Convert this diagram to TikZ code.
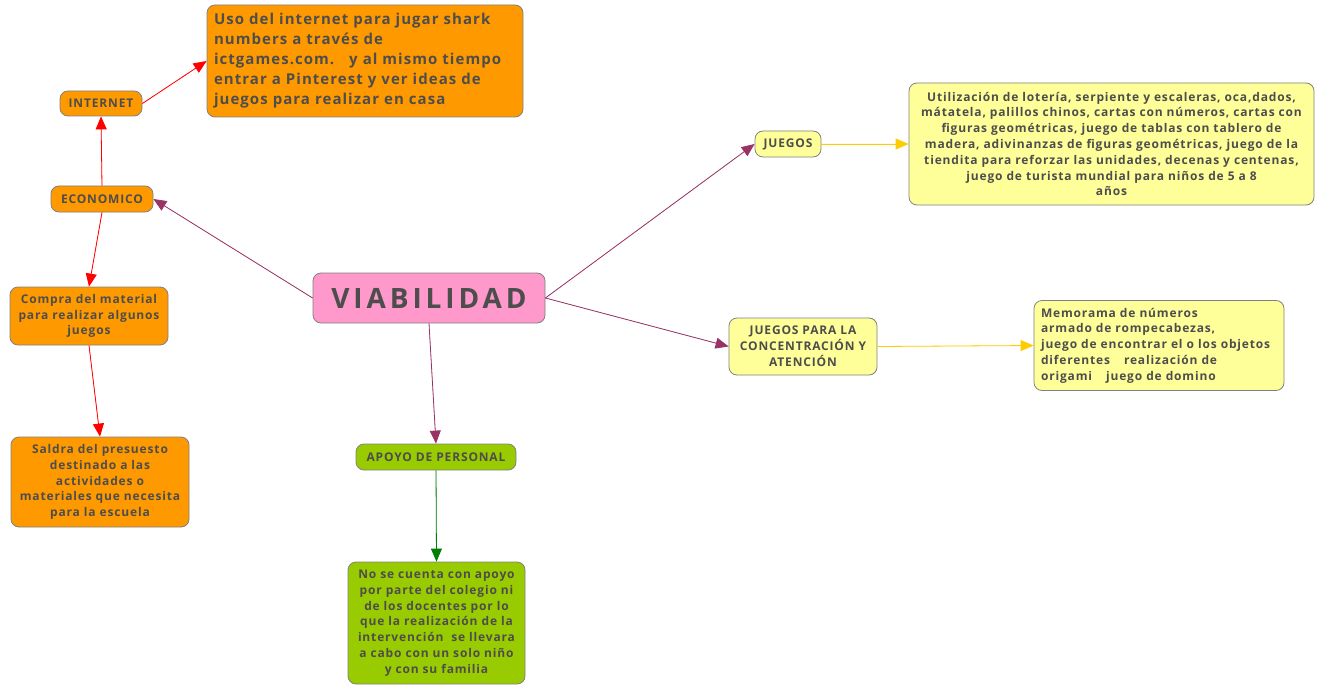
\documentclass[tikz,border=0pt]{standalone}
\usepackage{fontspec}
\setmainfont{Open Sans}[LetterSpace=7]
\usetikzlibrary{arrows.meta}
\definecolor{orangebox}{HTML}{FF9900}
\definecolor{yellowbox}{HTML}{FFFF99}
\definecolor{pinkbox}{HTML}{FF99CC}
\definecolor{greenbox}{HTML}{99CC00}
\definecolor{boxline}{HTML}{808080}
\definecolor{txt}{HTML}{4D4D4D}
\definecolor{plum}{HTML}{993366}
\definecolor{redline}{HTML}{FF0000}
\definecolor{greenline}{HTML}{008000}
\definecolor{goldline}{HTML}{FFCC00}
\begin{document}
\begin{tikzpicture}[x=1pt,y=-1pt,
  box/.style={draw=boxline,line width=0.8pt,rounded corners=8pt,text=txt,font=\bfseries\fontsize{12}{15.8}\selectfont,inner sep=0pt,align=center},
  obox/.style={box,fill=orangebox},
  ybox/.style={box,fill=yellowbox},
  gbox/.style={box,fill=greenbox},
  pbox/.style={box,fill=pinkbox},
  tip/.style={-{Triangle[length=13pt,width=11pt]},line width=0.8pt},
  plumarrow/.style={tip,draw=plum,fill=plum},
  redarrow/.style={tip,draw=redline,fill=redline},
  greenarrow/.style={tip,draw=greenline,fill=greenline},
  goldarrow/.style={tip,draw=goldline,fill=goldline}]
\useasboundingbox (0,0) rectangle (1319,687);

\node[pbox,minimum width=232pt,minimum height=50pt,font=\bfseries\fontsize{28}{30}\selectfont\addfontfeatures{LetterSpace=14}] (viab) at (429,298) {VIABILIDAD};

\node[obox,minimum width=102pt,minimum height=26pt] (eco) at (102,199) {ECONOMICO};
\node[obox,minimum width=82pt,minimum height=25pt] (inet) at (101,103.5) {INTERNET};
\node[obox,minimum width=316pt,minimum height=112pt,align=left,text width=302pt,font=\bfseries\fontsize{15}{20}\selectfont] (uso) at (365,61)
 {Uso del internet para jugar shark\\numbers a través de\\ictgames.com.\ \ \ y al mismo tiempo\\entrar a Pinterest y ver ideas de\\juegos para realizar en casa};
\node[obox,minimum width=158pt,minimum height=58pt] (compra) at (89,316) {Compra del material\\para realizar algunos\\juegos};
\node[obox,minimum width=178pt,minimum height=90pt] (saldra) at (100,482) {Saldra del presuesto\\destinado a las\\actividades o\\materiales que necesita\\para la escuela};

\node[gbox,minimum width=160pt,minimum height=26pt] (apoyo) at (436,457) {APOYO DE PERSONAL};
\node[gbox,minimum width=177pt,minimum height=122pt] (nose) at (436.5,623) {No se cuenta con apoyo\\por parte del colegio ni\\de los docentes por lo\\que la realización de la\\intervención\ \ se llevara\\a cabo con un solo niño\\y con su familia};

\node[ybox,minimum width=66pt,minimum height=26pt] (jueg) at (788,144) {JUEGOS};
\node[ybox,minimum width=405pt,minimum height=122pt] (util) at (1111.5,144) {Utilización de lotería, serpiente y escaleras, oca,dados,\\mátatela, palillos chinos, cartas con números, cartas con\\figuras geométricas, juego de tablas con tablero de\\madera, adivinanzas de figuras geométricas, juego de la\\tiendita para reforzar las unidades, decenas y centenas,\\juego de turista mundial para niños de 5 a 8\\años};

\node[ybox,minimum width=148pt,minimum height=57pt] (conc) at (803,346.5) {JUEGOS PARA LA\\CONCENTRACIÓN Y\\ATENCIÓN};
\node[ybox,minimum width=250pt,minimum height=90pt,align=left,text width=236pt] (memo) at (1159,345.5) {Memorama de números\\armado de rompecabezas,\\juego de encontrar el o los objetos\\diferentes\hspace{14pt}realización de\\origami\hspace{14pt}juego de domino};

\draw[plumarrow] (viab.west) -- (eco.east);
\draw[plumarrow] (viab.east) -- (jueg.west);
\draw[plumarrow] (viab.east) -- (conc.west);
\draw[plumarrow] (viab.south) -- (apoyo.north);
\draw[redarrow] (eco.north) -- (inet.south);
\draw[redarrow] (inet.east) -- (uso.west);
\draw[redarrow] (eco.south) -- (compra.north);
\draw[redarrow] (compra.south) -- (saldra.north);
\draw[greenarrow] (apoyo.south) -- (nose.north);
\draw[goldarrow] (jueg.east) -- (util.west);
\draw[goldarrow] (conc.east) -- (memo.west);
\end{tikzpicture}
\end{document}
